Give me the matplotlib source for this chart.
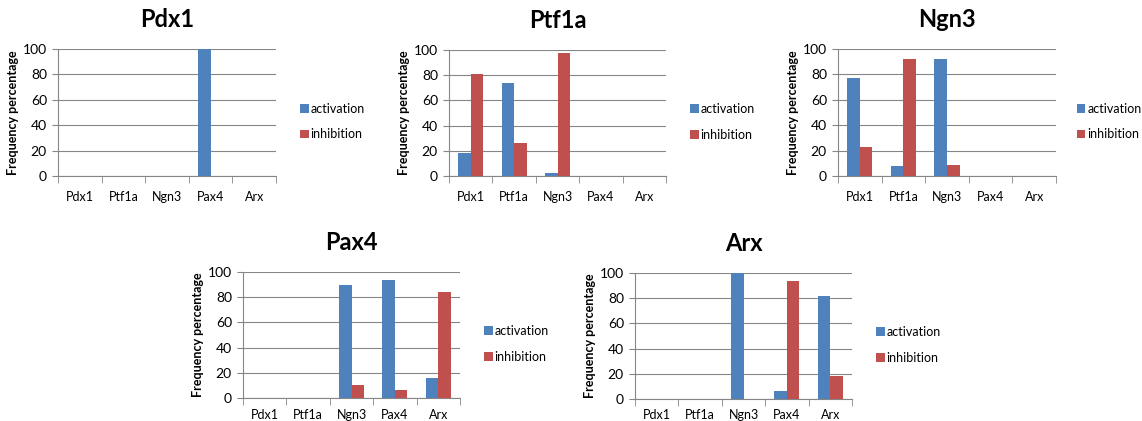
import matplotlib
matplotlib.use("Agg")
import matplotlib.pyplot as plt
import numpy as np

plt.rcParams['font.family'] = ['Lato', 'DejaVu Sans']

genes = ["Pdx1", "Ptf1a", "Ngn3", "Pax4", "Arx"]

pdx1_act = [0, 0, 0, 100, 0]
pdx1_inh = [0, 0, 0, 0, 0]
ptf1a_act = [18.5, 73.5, 2, 0, 0]
ptf1a_inh = [81, 26.5, 98, 0, 0]
ngn3_act = [77, 7.5, 92, 0, 0]
ngn3_inh = [23, 92.5, 8.5, 0, 0]
pax4_act = [0, 0, 89.5, 93.5, 16]
pax4_inh = [0, 0, 10.5, 6.5, 84]
arx_act = [0, 0, 100, 6.5, 82]
arx_inh = [0, 0, 0, 93.5, 18]

W, H = 1142, 421
BLUE = "#4F81BD"
RED = "#C0504D"
GRID = "#868686"

fig = plt.figure(figsize=(W / 100, H / 100), dpi=100)


def px_axes(left, top, right, bottom):
    return fig.add_axes([left / W, 1 - bottom / H, (right - left) / W, (bottom - top) / H])


def panel(box, title, act, inh, xpad=11, legx=1.07):
    ax = px_axes(*box)
    x = np.arange(len(genes))
    w = 0.29
    ax.bar(x - w / 2, act, w, color=BLUE, label="activation", zorder=3)
    ax.bar(x + w / 2, inh, w, color=RED, label="inhibition", zorder=3)
    ax.set_xlim(-0.5, 4.5)
    ax.set_ylim(0, 100)
    ax.set_yticks(range(0, 101, 20))
    ax.yaxis.grid(True, color=GRID, linewidth=0.8, zorder=0)
    ax.set_axisbelow(True)
    for s in ["top", "right"]:
        ax.spines[s].set_visible(False)
    ax.spines["left"].set_color(GRID)
    ax.spines["bottom"].set_color(GRID)
    ax.set_xticks(x)
    ax.set_xticklabels(genes, fontsize=9)
    ax.tick_params(axis="x", length=0, pad=xpad)
    ax.set_xticks(np.arange(-0.5, 5, 1), minor=True)
    ax.tick_params(axis="x", which="minor", length=5, color=GRID)
    ax.tick_params(axis="y", length=4, color=GRID, labelsize=10, pad=4)
    ax.set_ylabel("Frequency percentage", fontsize=9, fontweight="bold", labelpad=3)
    ax.set_title(title, fontsize=17, fontweight="bold", pad=16)
    ax.legend(loc="center left", bbox_to_anchor=(legx, 0.43), frameon=False,
              fontsize=9, handlelength=0.7, handleheight=0.7,
              handletextpad=0.15, labelspacing=1.1, borderaxespad=0.3)
    return ax


panel((58, 49, 276, 176), "Pdx1", pdx1_act, pdx1_inh)
panel((449, 50, 666, 176), "Ptf1a", ptf1a_act, ptf1a_inh)
panel((838, 49, 1056, 176), "Ngn3", ngn3_act, ngn3_inh, legx=1.055)
panel((243, 272, 460, 398), "Pax4", pax4_act, pax4_inh, xpad=8)
panel((635, 273, 852, 399), "Arx", arx_act, arx_inh, xpad=7)

fig.savefig("out.png", dpi=100)
